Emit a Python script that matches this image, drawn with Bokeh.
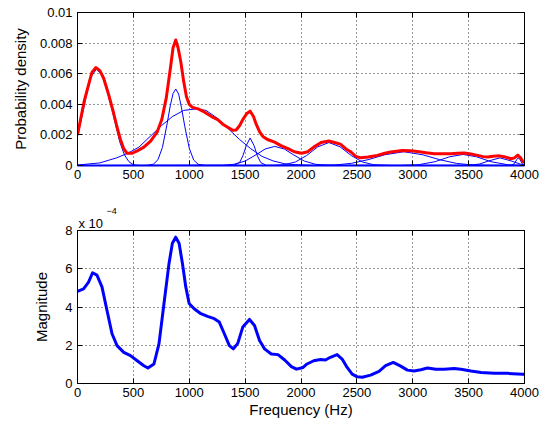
from bokeh.plotting import figure
from bokeh.layouts import column
from bokeh.models import Range1d, LinearAxis, FixedTicker, Title
from bokeh.embed import file_html
from bokeh.resources import INLINE

# ---------------- data ----------------
freq_ticks = [0, 500, 1000, 1500, 2000, 2500, 3000, 3500, 4000]
pdf_ticks = [0, 0.002, 0.004, 0.006, 0.008, 0.01]
pdf_tick_labels = ["0", "0.002", "0.004", "0.006", "0.008", "0.01"]
mag_ticks = [0, 2, 4, 6, 8]
mag_tick_labels = ["0", "2", "4", "6", "8"]

# mixture density (red)
mix_f = [0, 30, 60, 100, 130, 165, 200, 234, 280, 324, 354, 384, 414, 444, 490, 534,
         594, 654, 714, 754, 794, 834, 855, 879, 900, 924, 950, 975, 1000, 1029, 1080,
         1134, 1200, 1254, 1300, 1344, 1390, 1419, 1450, 1479, 1515, 1545, 1575, 1599,
         1630, 1659, 1700, 1764, 1820, 1884, 1940, 2004, 2060, 2114, 2180, 2248, 2300,
         2353, 2400, 2443, 2490, 2533, 2600, 2683, 2750, 2802, 2907, 2980, 3042, 3120,
         3192, 3270, 3341, 3400, 3461, 3520, 3581, 3630, 3671, 3720, 3775, 3830, 3880,
         3910, 3940, 3965, 3985, 4000]
mix_pdf = [0.0020, 0.0031, 0.0042, 0.0053, 0.0061, 0.0064, 0.0062, 0.0057, 0.0046,
           0.0034, 0.0025, 0.0017, 0.0011, 0.0008, 0.0008, 0.00095, 0.0012, 0.0016,
           0.0022, 0.0030, 0.0044, 0.0065, 0.0077, 0.0082, 0.0077, 0.0068, 0.0055,
           0.0045, 0.0040, 0.0038, 0.0037, 0.0035, 0.0032, 0.0030, 0.0027, 0.0025,
           0.0023, 0.00232, 0.0026, 0.0030, 0.0034, 0.00355, 0.0032, 0.0027, 0.0022,
           0.0019, 0.0017, 0.00153, 0.0013, 0.0011, 0.0009, 0.0008, 0.0009, 0.0012,
           0.0015, 0.0016, 0.0015, 0.0014, 0.0011, 0.0009, 0.0006, 0.0005, 0.00055,
           0.00066, 0.0008, 0.00088, 0.00098, 0.00097, 0.00092, 0.00083, 0.00077,
           0.00076, 0.00077, 0.0008, 0.00081, 0.00075, 0.00066, 0.00058, 0.00055,
           0.0006, 0.00063, 0.00055, 0.00044, 0.0005, 0.00068, 0.0005, 0.00026, 0.0002]

# individual mixture components (thin blue)
comp_a_f = [0, 40, 80, 120, 170, 220, 260, 300, 340, 380, 420, 460, 500, 550, 4000]
comp_a_pdf = [0.0019, 0.0032, 0.0046, 0.0058, 0.0063, 0.0059, 0.0050, 0.0039, 0.0027,
              0.0015, 0.0007, 0.00025, 0.00005, 0, 0]

comp_b_f = [0, 620, 680, 720, 760, 800, 830, 855, 879, 905, 930, 960, 1000, 1040, 1080,
            1140, 4000]
comp_b_pdf = [0, 0, 0.00009, 0.00038, 0.00118, 0.00265, 0.0039, 0.0047, 0.0050, 0.00467,
              0.0038, 0.00256, 0.00113, 0.00035, 0.00008, 0, 0]

comp_c_f = [0, 200, 350, 450, 550, 650, 750, 850, 950, 1060, 1150, 1250, 1350, 1450, 1550,
            1650, 1750, 1850, 1950, 2100, 4000]
comp_c_pdf = [0.00003, 0.00017, 0.0005, 0.0008, 0.0012, 0.0019, 0.0026, 0.0032, 0.0036,
              0.0037, 0.0036, 0.0031, 0.0024, 0.0017, 0.0011, 0.0006, 0.0003, 0.00012,
              0.00005, 0, 0]

comp_d_f = [0, 1400, 1450, 1480, 1510, 1545, 1580, 1610, 1640, 1690, 4000]
comp_d_pdf = [0, 0.00001, 0.00019, 0.00063, 0.0013, 0.0018, 0.0013, 0.00063, 0.00019,
              0.00001, 0]

comp_e_f = [0, 1300, 1400, 1500, 1600, 1680, 1765, 1850, 1930, 2030, 2130, 2250, 2400, 4000]
comp_e_pdf = [0, 0.00001, 0.00008, 0.00029, 0.00071, 0.00108, 0.00125, 0.00108, 0.00071,
              0.00029, 0.00008, 0.00001, 0, 0]

comp_f_f = [0, 1750, 1850, 1950, 2050, 2150, 2250, 2350, 2450, 2550, 2650, 2800, 4000]
comp_f_pdf = [0, 0, 0.00005, 0.00023, 0.00065, 0.00122, 0.0015, 0.00122, 0.00065,
              0.00023, 0.00005, 0, 0]

comp_g_f = [0, 2150, 2300, 2450, 2600, 2750, 2920, 3090, 3240, 3390, 3540, 3700, 4000]
comp_g_pdf = [0, 0, 0.00003, 0.00014, 0.00038, 0.0007, 0.0009, 0.0007, 0.00038,
              0.00014, 0.00003, 0, 0]

comp_h_f = [0, 2900, 3050, 3200, 3330, 3450, 3570, 3700, 3850, 4000]
comp_h_pdf = [0, 0, 0.00005, 0.00025, 0.00057, 0.00072, 0.00057, 0.00025, 0.00005, 0]

comp_i_f = [0, 3400, 3500, 3600, 3680, 3780, 3880, 3960, 4000]
comp_i_pdf = [0, 0, 0.00001, 0.0001, 0.0003, 0.0005, 0.0003, 0.0001, 0.00004]

comp_j_f = [0, 3880, 3910, 3930, 3945, 3960, 3980, 4000]
comp_j_pdf = [0, 0.00001, 0.00012, 0.00038, 0.0005, 0.00038, 0.00012, 0.00001]

# magnitude spectrum (in units of 1e-4)
spec_f = [0, 54, 99, 135, 174, 219, 264, 309, 354, 414, 474, 534, 594, 630, 684, 729,
          774, 819, 849, 879, 909, 939, 969, 999, 1044, 1104, 1164, 1224, 1269, 1314,
          1359, 1395, 1434, 1479, 1539, 1584, 1629, 1674, 1734, 1794, 1854, 1914, 1959,
          2019, 2054, 2114, 2174, 2219, 2263, 2323, 2368, 2413, 2458, 2503, 2548, 2623,
          2698, 2757, 2826, 2892, 2952, 3012, 3072, 3132, 3207, 3281, 3371, 3431, 3521,
          3611, 3731, 3850, 3985, 4000]
spec_mag_e4 = [4.82, 4.95, 5.3, 5.79, 5.67, 5.05, 3.82, 2.6, 1.98, 1.63, 1.46, 1.19,
               0.93, 0.81, 1.02, 2.07, 4.18, 6.28, 7.33, 7.65, 7.33, 6.28, 5.05, 4.18,
               3.91, 3.65, 3.51, 3.39, 3.21, 2.6, 1.98, 1.81, 2.1, 2.95, 3.35, 3.03,
               2.25, 1.81, 1.54, 1.51, 1.23, 0.88, 0.75, 0.84, 1.02, 1.19, 1.25, 1.23,
               1.37, 1.51, 1.28, 0.84, 0.49, 0.35, 0.33, 0.44, 0.63, 0.93, 1.1, 0.91,
               0.7, 0.65, 0.72, 0.81, 0.75, 0.74, 0.79, 0.74, 0.65, 0.58, 0.53, 0.53,
               0.49, 0.49]
mag_scale_base = "x 10"
mag_scale_exp = "\u22124"

components = [(comp_a_f, comp_a_pdf), (comp_b_f, comp_b_pdf), (comp_c_f, comp_c_pdf),
              (comp_d_f, comp_d_pdf), (comp_e_f, comp_e_pdf), (comp_f_f, comp_f_pdf),
              (comp_g_f, comp_g_pdf), (comp_h_f, comp_h_pdf), (comp_i_f, comp_i_pdf),
              (comp_j_f, comp_j_pdf)]

# ---------------- styling ----------------
FONT = "Liberation Sans"
TICK_FS = "13px"
LABEL_FS = "15px"


def style(p, yticks, ylabels, ylabel, xlabel=None):
    p.outline_line_color = "black"
    p.outline_line_width = 1
    p.background_fill_color = "white"
    p.border_fill_color = "white"
    xt = FixedTicker(ticks=freq_ticks)
    yt = FixedTicker(ticks=yticks)
    p.xaxis.ticker = xt
    p.yaxis.ticker = yt
    p.yaxis.major_label_overrides = dict(zip(yticks, ylabels))
    p.xgrid.ticker = xt
    p.ygrid.ticker = yt
    for g in (p.xgrid, p.ygrid):
        g.grid_line_color = "#303030"
        g.grid_line_dash = "1 3"
        g.grid_line_width = 1
    for ax in (p.xaxis, p.yaxis):
        ax.major_tick_in = 5
        ax.major_tick_out = 0
        ax.minor_tick_line_color = None
        ax.major_label_text_font = FONT
        ax.major_label_text_font_size = TICK_FS
        ax.major_label_text_color = "black"
        ax.axis_line_color = "black"
        ax.major_tick_line_color = "black"
        ax.axis_label_text_font = FONT
        ax.axis_label_text_font_size = LABEL_FS
        ax.axis_label_text_font_style = "normal"
        ax.axis_label_text_color = "black"
    p.xaxis.major_label_standoff = 4
    p.yaxis.major_label_standoff = 5
    p.yaxis.axis_label = ylabel
    if xlabel:
        p.xaxis.axis_label = xlabel
        p.xaxis.axis_label_standoff = 1
    # mirrored ticks (box on)
    top = LinearAxis(ticker=xt, major_tick_in=5, major_tick_out=0,
                     minor_tick_line_color=None, major_label_text_font_size="0px",
                     major_label_standoff=0, axis_line_color="black")
    right = LinearAxis(ticker=yt, major_tick_in=5, major_tick_out=0,
                       minor_tick_line_color=None, major_label_text_font_size="0px",
                       major_label_standoff=0, axis_line_color="black")
    p.add_layout(top, "above")
    p.add_layout(right, "right")


W = 543

p1 = figure(width=W, height=196, output_backend="svg", toolbar_location=None,
            x_range=Range1d(0, 4000), y_range=Range1d(0, 0.01),
            min_border_left=77, min_border_right=19, min_border_top=12,
            min_border_bottom=31)
style(p1, pdf_ticks, pdf_tick_labels, "Probability density")
p1.left[0].axis_label_standoff = 8
# zero-valued tails of all components pile up along the bottom edge
p1.below[0].axis_line_color = "#0000FF"
p1.below[0].axis_line_width = 2

for cf, cp in components:
    p1.line(cf, cp, line_color="#0000FF", line_width=1)
p1.line(mix_f, mix_pdf, line_color="#FF0000", line_width=3, line_join="round")

p2 = figure(width=W, height=226, output_backend="svg", toolbar_location=None,
            x_range=Range1d(0, 4000), y_range=Range1d(0, 8),
            min_border_left=77, min_border_right=19, min_border_top=34,
            min_border_bottom=39)
style(p2, mag_ticks, mag_tick_labels, "Magnitude", "Frequency (Hz)")
p2.left[0].axis_label_standoff = 12
p2.line(spec_f, spec_mag_e4, line_color="#0000FF", line_width=3, line_join="round")

p2.add_layout(Title(text=mag_scale_base, align="left", offset=1, standoff=0,
                    text_font=FONT, text_font_size="13px", text_font_style="normal",
                    text_color="black"), "above")
p2.add_layout(Title(text=mag_scale_exp, align="left", offset=29, standoff=0,
                    text_font=FONT, text_font_size="9px", text_font_style="normal",
                    text_color="black"), "above")

layout = column(p1, p2, spacing=0)
open("out.html", "w").write(file_html(layout, INLINE))
